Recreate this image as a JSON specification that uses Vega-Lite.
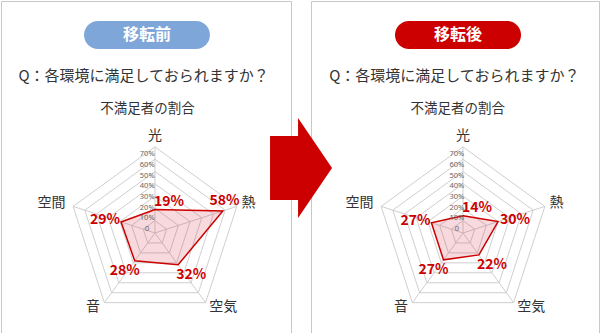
{
  "$schema": "https://vega.github.io/schema/vega-lite/v6.json",
  "padding": 0,
  "background": "white",
  "spacing": 20,
  "bounds": "flush",
  "config": {
    "view": {"stroke": "#c8c8c8", "strokeWidth": 1},
    "text": {"font": "Noto Sans CJK JP"}
  },
  "datasets": {
    "before": [
      {"axis": "光", "i": 0, "v": 19},
      {"axis": "熱", "i": 1, "v": 58},
      {"axis": "空気", "i": 2, "v": 32},
      {"axis": "音", "i": 3, "v": 28},
      {"axis": "空間", "i": 4, "v": 29}
    ],
    "after": [
      {"axis": "光", "i": 0, "v": 14},
      {"axis": "熱", "i": 1, "v": 30},
      {"axis": "空気", "i": 2, "v": 22},
      {"axis": "音", "i": 3, "v": 27},
      {"axis": "空間", "i": 4, "v": 27}
    ],
    "axes": [
      {"axis": "光", "i": 0},
      {"axis": "熱", "i": 1},
      {"axis": "空気", "i": 2},
      {"axis": "音", "i": 3},
      {"axis": "空間", "i": 4}
    ],
    "grid": [
      {"i": 0, "r": [10, 20, 30, 40, 50, 60, 70]},
      {"i": 1, "r": [10, 20, 30, 40, 50, 60, 70]},
      {"i": 2, "r": [10, 20, 30, 40, 50, 60, 70]},
      {"i": 3, "r": [10, 20, 30, 40, 50, 60, 70]},
      {"i": 4, "r": [10, 20, 30, 40, 50, 60, 70]}
    ],
    "ticks": [
      {"v": 0, "label": "0"},
      {"v": 10, "label": "10%"},
      {"v": 20, "label": "20%"},
      {"v": 30, "label": "30%"},
      {"v": 40, "label": "40%"},
      {"v": 50, "label": "50%"},
      {"v": 60, "label": "60%"},
      {"v": 70, "label": "70%"}
    ]
  },
  "hconcat": [
    {
      "width": 290,
      "height": 332,
      "layer": [
        {
          "data": {"values": [{"t": "移転前"}]},
          "transform": [
            {"calculate": "-57.7", "as": "bx"}, {"calculate": "44.7", "as": "bx2"},
            {"calculate": "172.4", "as": "by"}, {"calculate": "149.6", "as": "by2"}
          ],
          "mark": {"type": "rect", "cornerRadius": 14, "color": "#7fa6d9"},
          "encoding": {
            "x": {"field": "bx", "type": "quantitative", "scale": {"domain": [-125.2, 110.6], "nice": false, "zero": false}, "axis": null},
            "x2": {"field": "bx2"},
            "y": {"field": "by", "type": "quantitative", "scale": {"domain": [-81.3, 188.6], "nice": false, "zero": false}, "axis": null},
            "y2": {"field": "by2"}
          }
        },
        {
          "data": {"values": [{"t": "移転前"}]},
          "transform": [{"calculate": "-6.5", "as": "tx"}, {"calculate": "161", "as": "ty"}],
          "mark": {"type": "text", "fill": "white", "fontSize": 16, "fontWeight": "bold", "letterSpacing": 1.5},
          "encoding": {
            "x": {"field": "tx", "type": "quantitative", "scale": {"domain": [-125.2, 110.6], "nice": false, "zero": false}, "axis": null},
            "y": {"field": "ty", "type": "quantitative", "scale": {"domain": [-81.3, 188.6], "nice": false, "zero": false}, "axis": null},
            "text": {"field": "t", "type": "nominal"}
          }
        },
        {
          "data": {"values": [{"t": "Q：各環境に満足しておられますか？"}]},
          "transform": [{"calculate": "-9.3", "as": "tx"}, {"calculate": "127.6", "as": "ty"}],
          "mark": {"type": "text", "fill": "#333333", "fontSize": 15},
          "encoding": {
            "x": {"field": "tx", "type": "quantitative", "scale": {"domain": [-125.2, 110.6], "nice": false, "zero": false}, "axis": null},
            "y": {"field": "ty", "type": "quantitative", "scale": {"domain": [-81.3, 188.6], "nice": false, "zero": false}, "axis": null},
            "text": {"field": "t", "type": "nominal"}
          }
        },
        {
          "data": {"values": [{"t": "不満足者の割合"}]},
          "transform": [{"calculate": "-6.1", "as": "tx"}, {"calculate": "100.8", "as": "ty"}],
          "mark": {"type": "text", "fill": "#333333", "fontSize": 13.5},
          "encoding": {
            "x": {"field": "tx", "type": "quantitative", "scale": {"domain": [-125.2, 110.6], "nice": false, "zero": false}, "axis": null},
            "y": {"field": "ty", "type": "quantitative", "scale": {"domain": [-81.3, 188.6], "nice": false, "zero": false}, "axis": null},
            "text": {"field": "t", "type": "nominal"}
          }
        },
        {
          "data": {"name": "grid"},
          "transform": [
            {"flatten": ["r"]},
            {"calculate": "datum.i*2*PI/5", "as": "a"},
            {"calculate": "datum.r*sin(datum.a)", "as": "x"},
            {"calculate": "datum.r*cos(datum.a)", "as": "y"}
          ],
          "mark": {"type": "line", "interpolate": "linear-closed", "stroke": "#cfcfcf", "strokeWidth": 1},
          "encoding": {
            "x": {"field": "x", "type": "quantitative", "scale": {"domain": [-125.2, 110.6], "nice": false, "zero": false}, "axis": null},
            "y": {"field": "y", "type": "quantitative", "scale": {"domain": [-81.3, 188.6], "nice": false, "zero": false}, "axis": null},
            "detail": {"field": "r", "type": "nominal"},
            "order": {"field": "i", "type": "quantitative"}
          }
        },
        {
          "data": {"name": "axes"},
          "transform": [
            {"calculate": "datum.i*2*PI/5", "as": "a"},
            {"calculate": "0", "as": "ox"},
            {"calculate": "0", "as": "oy"},
            {"calculate": "70*sin(datum.a)", "as": "ex"},
            {"calculate": "70*cos(datum.a)", "as": "ey"}
          ],
          "mark": {"type": "rule", "stroke": "#cfcfcf", "strokeWidth": 1},
          "encoding": {
            "x": {"field": "ox", "type": "quantitative", "scale": {"domain": [-125.2, 110.6], "nice": false, "zero": false}, "axis": null},
            "y": {"field": "oy", "type": "quantitative", "scale": {"domain": [-81.3, 188.6], "nice": false, "zero": false}, "axis": null},
            "x2": {"field": "ex"},
            "y2": {"field": "ey"}
          }
        },
        {
          "data": {"name": "before"},
          "transform": [
            {"calculate": "datum.i*2*PI/5", "as": "a"},
            {"calculate": "datum.v*sin(datum.a)", "as": "x"},
            {"calculate": "datum.v*cos(datum.a)", "as": "y"}
          ],
          "mark": {"type": "line", "interpolate": "linear-closed", "stroke": "#cc0000", "strokeWidth": 1.5, "fill": "#d2102a", "fillOpacity": 0.16},
          "encoding": {
            "x": {"field": "x", "type": "quantitative", "scale": {"domain": [-125.2, 110.6], "nice": false, "zero": false}, "axis": null},
            "y": {"field": "y", "type": "quantitative", "scale": {"domain": [-81.3, 188.6], "nice": false, "zero": false}, "axis": null},
            "order": {"field": "i", "type": "quantitative"}
          }
        },
        {
          "data": {"name": "ticks"},
          "transform": [{"calculate": "datum.v*0.87+3.2", "as": "ty"}, {"calculate": "-6.3", "as": "tx"}],
          "mark": {"type": "text", "fill": "#666666", "fontSize": 7.5, "font": "Noto Sans", "align": "center", "baseline": "middle"},
          "encoding": {
            "x": {"field": "tx", "type": "quantitative", "scale": {"domain": [-125.2, 110.6], "nice": false, "zero": false}, "axis": null},
            "y": {"field": "ty", "type": "quantitative", "scale": {"domain": [-81.3, 188.6], "nice": false, "zero": false}, "axis": null},
            "text": {"field": "label", "type": "nominal"}
          }
        },
        {
          "data": {"name": "before"},
          "transform": [
            {"calculate": "datum.i*2*PI/5", "as": "a"},
            {"calculate": "datum.v*sin(datum.a) + (datum.i==0 ? 11.4 : datum.i==1 ? 1.4 : datum.i==2 ? 10.6 : datum.i==3 ? -8.1 : -13)", "as": "lx"},
            {"calculate": "datum.v*cos(datum.a) + (datum.i==0 ? 6.5 : datum.i==1 ? 8.1 : datum.i==2 ? -8.1 : datum.i==3 ? -8.1 : 1.6)", "as": "ly"},
            {"calculate": "datum.v + '%'", "as": "pct"}
          ],
          "mark": {"type": "text", "fill": "#cc0000", "fontSize": 14, "fontWeight": "bold", "letterSpacing": -0.4, "align": "center", "baseline": "middle"},
          "encoding": {
            "x": {"field": "lx", "type": "quantitative", "scale": {"domain": [-125.2, 110.6], "nice": false, "zero": false}, "axis": null},
            "y": {"field": "ly", "type": "quantitative", "scale": {"domain": [-81.3, 188.6], "nice": false, "zero": false}, "axis": null},
            "text": {"field": "pct", "type": "nominal"}
          }
        },
        {
          "data": {"name": "axes"},
          "transform": [
            {"calculate": "datum.i*2*PI/5", "as": "a"},
            {"calculate": "79*sin(datum.a) + (datum.i==1 ? 1 : datum.i==2 ? 9 : datum.i==3 ? -4 : datum.i==4 ? -9 : 0)", "as": "ax"},
            {"calculate": "79*cos(datum.a) + (datum.i==2 || datum.i==3 ? 4 : 0)", "as": "ay"}
          ],
          "mark": {"type": "text", "fill": "#333333", "fontSize": 14, "align": "center", "baseline": "middle"},
          "encoding": {
            "x": {"field": "ax", "type": "quantitative", "scale": {"domain": [-125.2, 110.6], "nice": false, "zero": false}, "axis": null},
            "y": {"field": "ay", "type": "quantitative", "scale": {"domain": [-81.3, 188.6], "nice": false, "zero": false}, "axis": null},
            "text": {"field": "axis", "type": "nominal"}
          }
        }
      ]
    },
    {
      "width": 288,
      "height": 332,
      "layer": [
        {
          "data": {"values": [{"t": "移転後"}]},
          "transform": [
            {"calculate": "-55.3", "as": "bx"}, {"calculate": "47.2", "as": "bx2"},
            {"calculate": "172.4", "as": "by"}, {"calculate": "149.6", "as": "by2"}
          ],
          "mark": {"type": "rect", "cornerRadius": 14, "color": "#cc0000"},
          "encoding": {
            "x": {"field": "bx", "type": "quantitative", "scale": {"domain": [-123.6, 110.6], "nice": false, "zero": false}, "axis": null},
            "x2": {"field": "bx2"},
            "y": {"field": "by", "type": "quantitative", "scale": {"domain": [-81.3, 188.6], "nice": false, "zero": false}, "axis": null},
            "y2": {"field": "by2"}
          }
        },
        {
          "data": {"values": [{"t": "移転後"}]},
          "transform": [{"calculate": "-4.1", "as": "tx"}, {"calculate": "161", "as": "ty"}],
          "mark": {"type": "text", "fill": "white", "fontSize": 16, "fontWeight": "bold", "letterSpacing": 1.5},
          "encoding": {
            "x": {"field": "tx", "type": "quantitative", "scale": {"domain": [-123.6, 110.6], "nice": false, "zero": false}, "axis": null},
            "y": {"field": "ty", "type": "quantitative", "scale": {"domain": [-81.3, 188.6], "nice": false, "zero": false}, "axis": null},
            "text": {"field": "t", "type": "nominal"}
          }
        },
        {
          "data": {"values": [{"t": "Q：各環境に満足しておられますか？"}]},
          "transform": [{"calculate": "-7.1", "as": "tx"}, {"calculate": "127.6", "as": "ty"}],
          "mark": {"type": "text", "fill": "#333333", "fontSize": 15},
          "encoding": {
            "x": {"field": "tx", "type": "quantitative", "scale": {"domain": [-123.6, 110.6], "nice": false, "zero": false}, "axis": null},
            "y": {"field": "ty", "type": "quantitative", "scale": {"domain": [-81.3, 188.6], "nice": false, "zero": false}, "axis": null},
            "text": {"field": "t", "type": "nominal"}
          }
        },
        {
          "data": {"values": [{"t": "不満足者の割合"}]},
          "transform": [{"calculate": "-4.2", "as": "tx"}, {"calculate": "100.8", "as": "ty"}],
          "mark": {"type": "text", "fill": "#333333", "fontSize": 13.5},
          "encoding": {
            "x": {"field": "tx", "type": "quantitative", "scale": {"domain": [-123.6, 110.6], "nice": false, "zero": false}, "axis": null},
            "y": {"field": "ty", "type": "quantitative", "scale": {"domain": [-81.3, 188.6], "nice": false, "zero": false}, "axis": null},
            "text": {"field": "t", "type": "nominal"}
          }
        },
        {
          "data": {"name": "grid"},
          "transform": [
            {"flatten": ["r"]},
            {"calculate": "datum.i*2*PI/5", "as": "a"},
            {"calculate": "datum.r*sin(datum.a)", "as": "x"},
            {"calculate": "datum.r*cos(datum.a)", "as": "y"}
          ],
          "mark": {"type": "line", "interpolate": "linear-closed", "stroke": "#cfcfcf", "strokeWidth": 1},
          "encoding": {
            "x": {"field": "x", "type": "quantitative", "scale": {"domain": [-123.6, 110.6], "nice": false, "zero": false}, "axis": null},
            "y": {"field": "y", "type": "quantitative", "scale": {"domain": [-81.3, 188.6], "nice": false, "zero": false}, "axis": null},
            "detail": {"field": "r", "type": "nominal"},
            "order": {"field": "i", "type": "quantitative"}
          }
        },
        {
          "data": {"name": "axes"},
          "transform": [
            {"calculate": "datum.i*2*PI/5", "as": "a"},
            {"calculate": "0", "as": "ox"},
            {"calculate": "0", "as": "oy"},
            {"calculate": "70*sin(datum.a)", "as": "ex"},
            {"calculate": "70*cos(datum.a)", "as": "ey"}
          ],
          "mark": {"type": "rule", "stroke": "#cfcfcf", "strokeWidth": 1},
          "encoding": {
            "x": {"field": "ox", "type": "quantitative", "scale": {"domain": [-123.6, 110.6], "nice": false, "zero": false}, "axis": null},
            "y": {"field": "oy", "type": "quantitative", "scale": {"domain": [-81.3, 188.6], "nice": false, "zero": false}, "axis": null},
            "x2": {"field": "ex"},
            "y2": {"field": "ey"}
          }
        },
        {
          "data": {"name": "after"},
          "transform": [
            {"calculate": "datum.i*2*PI/5", "as": "a"},
            {"calculate": "datum.v*sin(datum.a)", "as": "x"},
            {"calculate": "datum.v*cos(datum.a)", "as": "y"}
          ],
          "mark": {"type": "line", "interpolate": "linear-closed", "stroke": "#cc0000", "strokeWidth": 1.5, "fill": "#d2102a", "fillOpacity": 0.16},
          "encoding": {
            "x": {"field": "x", "type": "quantitative", "scale": {"domain": [-123.6, 110.6], "nice": false, "zero": false}, "axis": null},
            "y": {"field": "y", "type": "quantitative", "scale": {"domain": [-81.3, 188.6], "nice": false, "zero": false}, "axis": null},
            "order": {"field": "i", "type": "quantitative"}
          }
        },
        {
          "data": {"name": "ticks"},
          "transform": [{"calculate": "datum.v*0.87+3.2", "as": "ty"}, {"calculate": "-5", "as": "tx"}],
          "mark": {"type": "text", "fill": "#666666", "fontSize": 7.5, "font": "Noto Sans", "align": "center", "baseline": "middle"},
          "encoding": {
            "x": {"field": "tx", "type": "quantitative", "scale": {"domain": [-123.6, 110.6], "nice": false, "zero": false}, "axis": null},
            "y": {"field": "ty", "type": "quantitative", "scale": {"domain": [-81.3, 188.6], "nice": false, "zero": false}, "axis": null},
            "text": {"field": "label", "type": "nominal"}
          }
        },
        {
          "data": {"name": "after"},
          "transform": [
            {"calculate": "datum.i*2*PI/5", "as": "a"},
            {"calculate": "datum.v*sin(datum.a) + (datum.i==0 ? 11.4 : datum.i==1 ? 13.8 : datum.i==2 ? 10.6 : datum.i==3 ? -8.1 : -13)", "as": "lx"},
            {"calculate": "datum.v*cos(datum.a) + (datum.i==0 ? 6.5 : datum.i==1 ? 1.6 : datum.i==2 ? -8.1 : datum.i==3 ? -8.1 : 1.6)", "as": "ly"},
            {"calculate": "datum.v + '%'", "as": "pct"}
          ],
          "mark": {"type": "text", "fill": "#cc0000", "fontSize": 14, "fontWeight": "bold", "letterSpacing": -0.4, "align": "center", "baseline": "middle"},
          "encoding": {
            "x": {"field": "lx", "type": "quantitative", "scale": {"domain": [-123.6, 110.6], "nice": false, "zero": false}, "axis": null},
            "y": {"field": "ly", "type": "quantitative", "scale": {"domain": [-81.3, 188.6], "nice": false, "zero": false}, "axis": null},
            "text": {"field": "pct", "type": "nominal"}
          }
        },
        {
          "data": {"name": "axes"},
          "transform": [
            {"calculate": "datum.i*2*PI/5", "as": "a"},
            {"calculate": "79*sin(datum.a) + (datum.i==1 ? 1 : datum.i==2 ? 9 : datum.i==3 ? -4 : datum.i==4 ? -9 : 0)", "as": "ax"},
            {"calculate": "79*cos(datum.a) + (datum.i==2 || datum.i==3 ? 4 : 0)", "as": "ay"}
          ],
          "mark": {"type": "text", "fill": "#333333", "fontSize": 14, "align": "center", "baseline": "middle"},
          "encoding": {
            "x": {"field": "ax", "type": "quantitative", "scale": {"domain": [-123.6, 110.6], "nice": false, "zero": false}, "axis": null},
            "y": {"field": "ay", "type": "quantitative", "scale": {"domain": [-81.3, 188.6], "nice": false, "zero": false}, "axis": null},
            "text": {"field": "axis", "type": "nominal"}
          }
        },
        {
          "data": {"values": [{"t": "arrow"}]},
          "transform": [{"calculate": "-131.7", "as": "px"}, {"calculate": "52.8", "as": "py"}],
          "mark": {"type": "point", "filled": true, "opacity": 1, "color": "#cc0000", "size": 10000, "shape": "M-0.62,-0.64 L-0.06,-0.64 L-0.06,-1 L0.62,0 L-0.06,1 L-0.06,0.64 L-0.62,0.64 Z"},
          "encoding": {
            "x": {"field": "px", "type": "quantitative", "scale": {"domain": [-123.6, 110.6], "nice": false, "zero": false}, "axis": null},
            "y": {"field": "py", "type": "quantitative", "scale": {"domain": [-81.3, 188.6], "nice": false, "zero": false}, "axis": null}
          }
        }
      ]
    }
  ]
}
